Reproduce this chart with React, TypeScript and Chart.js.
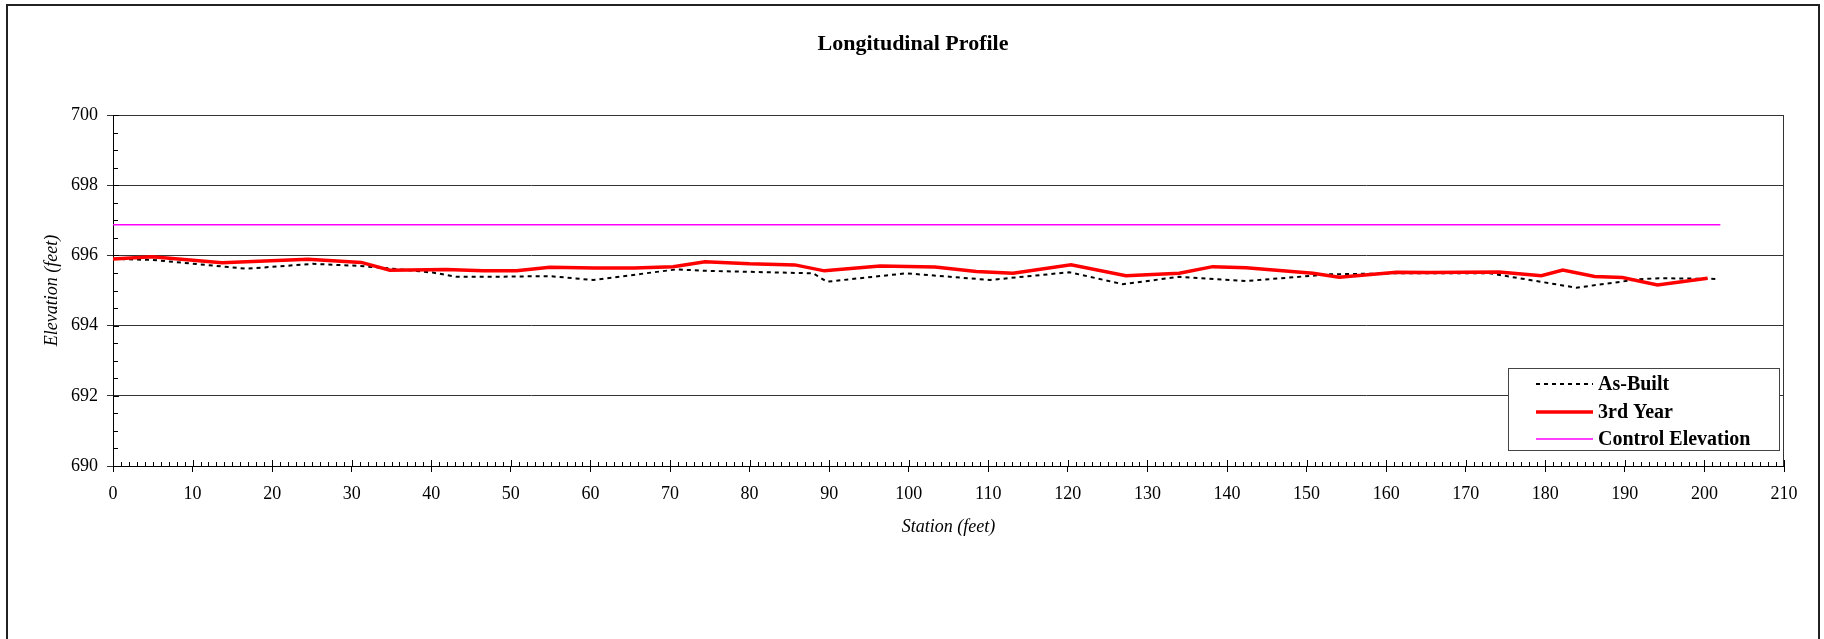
import React, { useEffect, useRef } from "react";
import { Chart, registerables } from "chart.js";

Chart.register(...registerables);

const TITLE = "Longitudinal Profile";
const X_TITLE = "Station (feet)";
const Y_TITLE = "Elevation (feet)";
const SERIES_NAMES = ["As-Built", "3rd Year", "Control Elevation"];

const asBuiltStations = [0, 5, 16.8, 25.1, 31, 35.2, 40.2, 43.2, 47.5, 54.9, 60.3, 70.8, 74.6, 88, 89.7, 99.7, 110.2, 120.2, 126.9, 134, 142.4, 152.9, 161.3, 173, 183.9, 191.8, 194.3, 201.5];
const asBuiltElev = [695.9, 695.87, 695.62, 695.76, 695.7, 695.62, 695.51, 695.39, 695.39, 695.41, 695.3, 695.6, 695.56, 695.49, 695.25, 695.49, 695.3, 695.52, 695.18, 695.39, 695.27, 695.46, 695.49, 695.49, 695.08, 695.32, 695.35, 695.33];

const year3Stations = [0, 4.9, 13.7, 24.5, 31.2, 34.8, 41.9, 46.5, 50.7, 54.9, 60.5, 65.5, 70.4, 74.4, 80, 85.7, 89.4, 96.4, 103.3, 108.5, 113.1, 120.4, 127.3, 134, 138.2, 142.4, 150.8, 154.1, 161.3, 165.5, 174.2, 179.5, 182.2, 186.2, 189.7, 194.1, 200.4];
const year3Elev = [695.9, 695.96, 695.79, 695.89, 695.8, 695.58, 695.6, 695.56, 695.56, 695.66, 695.64, 695.64, 695.68, 695.82, 695.76, 695.73, 695.56, 695.7, 695.67, 695.54, 695.49, 695.73, 695.42, 695.49, 695.68, 695.65, 695.49, 695.38, 695.52, 695.51, 695.53, 695.42, 695.58, 695.4, 695.37, 695.16, 695.35];

const controlStations = [0, 202];
const controlElev = [696.87, 696.87];

const X_MIN = 0, X_MAX = 210, X_STEP = 10, X_MINOR = 1;
const Y_MIN = 690, Y_MAX = 700, Y_STEP = 2, Y_MINOR = 0.5;

const SERIF = "'Times New Roman', 'Liberation Serif', serif";

const toPoints = (xs: number[], ys: number[]) => xs.map((x, i) => ({ x, y: ys[i] }));

const decorPlugin = {
  id: "decor",
  beforeDraw(chart: any) {
    const ctx = chart.ctx;
    ctx.save();
    ctx.fillStyle = "#fff";
    ctx.fillRect(0, 0, chart.width, chart.height);
    ctx.strokeStyle = "#222";
    ctx.lineWidth = 2;
    ctx.strokeRect(7, 5, 1812, 700);
    ctx.fillStyle = "#000";
    ctx.font = `bold 22px ${SERIF}`;
    ctx.textAlign = "center";
    ctx.textBaseline = "middle";
    ctx.fillText(TITLE, 913, 44);
    ctx.restore();
  },
  beforeDatasetsDraw(chart: any) {
    const ctx = chart.ctx;
    const { left, right, top, bottom } = chart.chartArea;
    const xs = chart.scales.x;
    const ys = chart.scales.y;
    ctx.save();
    ctx.strokeStyle = "#333";
    ctx.lineWidth = 1;
    ctx.beginPath();
    ctx.moveTo(left, top + 0.5);
    ctx.lineTo(right - 0.5, top + 0.5);
    ctx.lineTo(right - 0.5, bottom);
    ctx.stroke();
    ctx.strokeStyle = "#000";
    ctx.beginPath();
    for (let v = Y_MIN; v <= Y_MAX + 1e-9; v += Y_MINOR) {
      const py = Math.round(ys.getPixelForValue(v)) + 0.5;
      const isMajor = Math.abs(v / Y_STEP - Math.round(v / Y_STEP)) < 1e-6;
      ctx.moveTo(left, py);
      ctx.lineTo(left + (isMajor ? 6 : 5), py);
    }
    for (let v = X_MIN; v <= X_MAX + 1e-9; v += X_MINOR) {
      const px = Math.round(xs.getPixelForValue(v)) + 0.5;
      const isMajor = Math.abs(v / X_STEP - Math.round(v / X_STEP)) < 1e-6;
      ctx.moveTo(px, bottom);
      ctx.lineTo(px, bottom - (isMajor ? 6 : 4));
    }
    ctx.stroke();
    ctx.restore();
  },
  afterDraw(chart: any) {
    const ctx = chart.ctx;
    const ds = chart.data.datasets;
    ctx.save();
    const bx = 1508, by = 368, bw = 271, bh = 82;
    ctx.fillStyle = "#fff";
    ctx.fillRect(bx, by, bw, bh);
    ctx.strokeStyle = "#444";
    ctx.lineWidth = 1;
    ctx.strokeRect(bx + 0.5, by + 0.5, bw, bh);
    const rows = [384, 412, 439];
    ds.forEach((d: any, i: number) => {
      const y = rows[i];
      ctx.strokeStyle = d.borderColor;
      ctx.lineWidth = d.borderWidth;
      ctx.setLineDash(d.borderDash || []);
      ctx.beginPath();
      ctx.moveTo(1536, y);
      ctx.lineTo(1593, y);
      ctx.stroke();
      ctx.setLineDash([]);
      ctx.fillStyle = "#000";
      ctx.font = `bold 20px ${SERIF}`;
      ctx.textAlign = "left";
      ctx.textBaseline = "middle";
      ctx.fillText(d.label, 1598, y + 1);
    });
    ctx.restore();
  },
};

export default function App() {
  const canvasRef = useRef<HTMLCanvasElement | null>(null);

  useEffect(() => {
    const canvas = canvasRef.current;
    if (!canvas) return;
    const chart = new Chart(canvas, {
      type: "line",
      data: {
        datasets: [
          {
            label: SERIES_NAMES[0],
            data: toPoints(asBuiltStations, asBuiltElev),
            borderColor: "#000000",
            borderWidth: 2,
            borderDash: [4, 4],
            pointRadius: 0,
            tension: 0,
            fill: false,
            order: 3,
          },
          {
            label: SERIES_NAMES[1],
            data: toPoints(year3Stations, year3Elev),
            borderColor: "#ff0000",
            borderWidth: 3.5,
            pointRadius: 0,
            tension: 0,
            fill: false,
            order: 2,
          },
          {
            label: SERIES_NAMES[2],
            data: toPoints(controlStations, controlElev),
            borderColor: "#ff00ff",
            borderWidth: 1.5,
            pointRadius: 0,
            tension: 0,
            fill: false,
            order: 1,
          },
        ],
      },
      options: {
        animation: false,
        responsive: false,
        maintainAspectRatio: false,
        layout: { padding: { left: 0, top: 115, right: 40, bottom: 93 } },
        plugins: {
          legend: { display: false },
          title: { display: false },
          tooltip: { enabled: false },
        },
        scales: {
          x: {
            type: "linear",
            min: X_MIN,
            max: X_MAX,
            afterFit: (s: any) => { s.height = 80; },
            ticks: {
              stepSize: X_STEP,
              color: "#000",
              padding: 11,
              maxRotation: 0,
              font: { family: SERIF, size: 18 },
            },
            grid: { drawOnChartArea: false, drawTicks: true, tickLength: 6, color: "#000" },
            border: { display: true, color: "#000", width: 1 },
            title: {
              display: true,
              text: X_TITLE,
              color: "#000",
              font: { family: SERIF, size: 18, style: "italic" },
              padding: { top: 0, bottom: 8 },
            },
          },
          y: {
            type: "linear",
            min: Y_MIN,
            max: Y_MAX,
            afterFit: (s: any) => { s.width = 113; },
            ticks: {
              stepSize: Y_STEP,
              color: "#000",
              padding: 9,
              font: { family: SERIF, size: 18 },
            },
            grid: { drawOnChartArea: true, drawTicks: true, tickLength: 6, color: "#333" },
            border: { display: true, color: "#000", width: 1 },
            title: {
              display: true,
              text: Y_TITLE,
              color: "#000",
              font: { family: SERIF, size: 18, style: "italic" },
              padding: { top: 41, bottom: 0 },
            },
          },
        },
      },
      plugins: [decorPlugin],
    });
    return () => chart.destroy();
  }, []);

  return (
    <div style={{ position: "absolute", left: 0, top: 0, width: 1824, height: 639, background: "#fff" }}>
      <canvas ref={canvasRef} width={1824} height={639} style={{ display: "block" }} />
    </div>
  );
}
